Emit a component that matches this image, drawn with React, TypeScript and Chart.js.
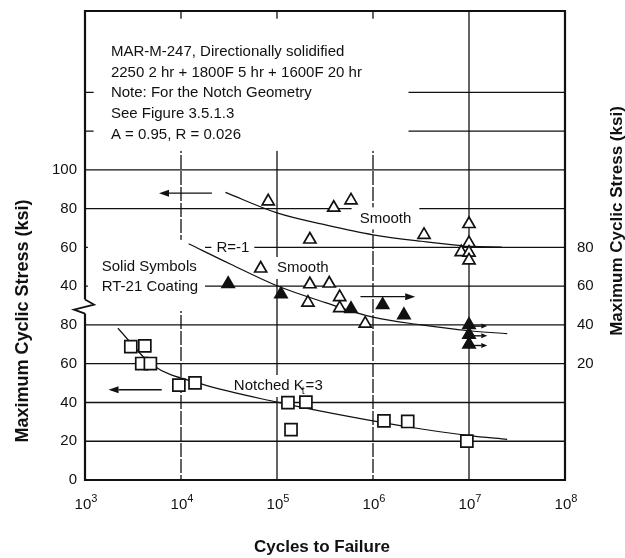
import React, { useEffect, useRef } from "react";
import { Chart, registerables } from "chart.js";

Chart.register(...registerables);

const FONT = "'Liberation Sans', Arial, Helvetica, sans-serif";
const INK = "#111";

// The vertical axis is broken: one shared scale carries three stress scales.
// Upper-left values sit 60 units up, right-hand values 40 units up.
const UPPER_SHIFT = 60;
const RIGHT_SHIFT = 40;
const PLOT_TOP = 242;

const decadeValues = [1e3, 1e4, 1e5, 1e6, 1e7, 1e8];
const decadeExponents = ["3", "4", "5", "6", "7", "8"];
const lowerLeftTicks = [0, 20, 40, 60, 80];
const upperLeftTicks = [40, 60, 80, 100];
const rightTicks = [20, 40, 60, 80];
const gridLevels = [20, 40, 60, 80, 100, 120, 140, 160, 180, 200];

const noteLines = [
  "MAR-M-247, Directionally solidified",
  "2250 2 hr + 1800F 5 hr + 1600F 20 hr",
  "Note: For the Notch Geometry",
  "See Figure 3.5.1.3",
  "A = 0.95, R = 0.026",
];

// Smooth specimens, A = 0.95 (upper-left stress scale, ksi)
const smoothCycles = [8.1e4, 2.2e5, 3.9e5, 5.9e5, 3.4e6, 1e7, 1e7, 8.3e6, 1e7, 1e7];
const smoothStress = [83.8, 64.1, 80.5, 84.3, 66.5, 72.1, 62.2, 57.6, 57.3, 53.3];
const smoothFitCycles = [2.9e4, 1e5, 3.2e5, 1e6, 3.2e6, 1e7, 2.2e7];
const smoothFitStress = [88.4, 77.8, 71.6, 66.5, 63.2, 60.7, 60.2];

// Smooth specimens, R = -1 (right stress scale, ksi)
const reversedCycles = [2.2e5, 3.5e5, 2.1e5, 4.5e5, 4.5e5, 8.3e5];
const reversedStress = [61, 61.4, 51.5, 54.4, 48.7, 40.7];
const coatedCycles = [3.1e4, 1.1e5, 5.9e5, 1.26e6, 2.1e6, 1e7, 1e7, 1e7];
const coatedStress = [61.2, 55.9, 48.3, 50.3, 45.1, 40, 35, 30];
const reversedFitCycles = [1.2e4, 3.3e4, 1e5, 3.2e5, 1e6, 3.2e6, 1e7, 2.5e7];
const reversedFitStress = [81.9, 71.3, 60.2, 51.5, 44, 40, 37, 35.5];

// Notched Kt = 3 (lower-left stress scale, ksi)
const notchCycles = [3.0e3, 4.2e3, 3.9e3, 4.8e3, 9.5e3, 1.4e4, 1.3e5, 2.0e5, 1.4e5, 1.3e6, 2.3e6, 9.5e6];
const notchStress = [68.8, 69.2, 60.1, 60.1, 49, 50.1, 39.9, 40.2, 26, 30.5, 30.2, 20.1];
const notchFitCycles = [2.2e3, 5e3, 1.6e4, 1e5, 1e6, 3.2e6, 1e7, 2.5e7];
const notchFitStress = [78.3, 59.5, 49.7, 40.2, 30.5, 26.3, 22.9, 21];

// Direction arrows: [fromCycles, toCycles, stress, scale shift]
const bigArrows: [number, number, number, number][] = [
  [2.1e4, 5.9e3, 88, UPPER_SHIFT],
  [6.3e3, 1.76e3, 46.6, 0],
  [7.4e5, 2.75e6, 54.6, RIGHT_SHIFT],
];
// Run-outs of the coated specimens at 10^7 cycles (right scale)
const runoutStress = [40, 35, 30];
const runoutFrom = 1.07e7;
const runoutTo = 1.55e7;

const pts = (xs: number[], ys: number[], shift: number) =>
  xs.map((x, i) => ({ x, y: ys[i] + shift }));

const font = (size: number, bold = false) => `${bold ? "bold " : ""}${size}px ${FONT}`;

function arrow(ctx: CanvasRenderingContext2D, x1: number, y1: number, x2: number, y2: number, head: number, half: number) {
  const ang = Math.atan2(y2 - y1, x2 - x1);
  const bx = x2 - Math.cos(ang) * head;
  const by = y2 - Math.sin(ang) * head;
  ctx.beginPath();
  ctx.moveTo(x1, y1);
  ctx.lineTo(bx, by);
  ctx.stroke();
  ctx.beginPath();
  ctx.moveTo(x2, y2);
  ctx.lineTo(bx - Math.sin(ang) * half, by + Math.cos(ang) * half);
  ctx.lineTo(bx + Math.sin(ang) * half, by - Math.cos(ang) * half);
  ctx.closePath();
  ctx.fill();
}

const decorPlugin = {
  id: "fatigueDecor",
  beforeDatasetsDraw(chart: any) {
    const { ctx, chartArea: a, scales } = chart;
    const X = (v: number) => scales.x.getPixelForValue(v);
    const Y = (v: number) => scales.y.getPixelForValue(v);
    const L = (lg: number) => X(Math.pow(10, lg));
    ctx.save();

    // grid
    ctx.strokeStyle = INK;
    ctx.lineWidth = 1.3;
    gridLevels.forEach((v) => {
      ctx.beginPath();
      ctx.moveTo(a.left, Y(v));
      ctx.lineTo(a.right, Y(v));
      ctx.stroke();
    });
    decadeValues.slice(1, -1).forEach((v, i) => {
      ctx.setLineDash(i % 2 === 0 ? [14, 2] : []);
      ctx.beginPath();
      ctx.moveTo(X(v), a.top);
      ctx.lineTo(X(v), a.bottom);
      ctx.stroke();
    });
    ctx.setLineDash([]);

    // masks behind the note block and the coating legend
    ctx.fillStyle = "#fff";
    ctx.fillRect(L(3.09), Y(238), L(6.37) - L(3.09), Y(169.8) - Y(238));
    ctx.fillRect(L(3.03), Y(123.9), L(4.25) - L(3.03), Y(87.2) - Y(123.9));

    ctx.fillStyle = INK;
    ctx.textBaseline = "middle";
    ctx.textAlign = "left";

    // note block
    ctx.font = font(15);
    noteLines.forEach((s, i) => ctx.fillText(s, L(3.27), Y(221) + i * 20.8));

    // boxed labels on the grid
    const boxed = (s: string, cx: number, cy: number, padX: number, padY: number) => {
      ctx.font = font(15);
      const w = ctx.measureText(s).width;
      ctx.fillStyle = "#fff";
      ctx.fillRect(cx - w / 2 - padX, cy - padY, w + 2 * padX, 2 * padY);
      ctx.fillStyle = INK;
      ctx.textAlign = "center";
      ctx.fillText(s, cx, cy);
      ctx.textAlign = "left";
    };
    boxed("R=-1", L(4.54), Y(120), 5, 8);
    boxed("Smooth", L(6.13), Y(135), 8, 11);

    // "△ Smooth"
    {
      const ty = Y(109.4);
      const tx = L(4.83);
      ctx.fillStyle = "#fff";
      ctx.fillRect(tx - 8, ty - 11, L(5.58) - tx + 8, 22);
      ctx.fillStyle = INK;
      ctx.font = font(15);
      ctx.fillText("Smooth", L(5.0), ty);
      ctx.lineWidth = 1.7;
      ctx.beginPath();
      ctx.moveTo(tx, ty - 6.5);
      ctx.lineTo(tx + 6, ty + 4);
      ctx.lineTo(tx - 6, ty + 4);
      ctx.closePath();
      ctx.stroke();
      ctx.lineWidth = 1.3;
    }

    // coating legend
    ctx.font = font(15);
    ctx.fillText("Solid Symbols", L(3.174), Y(110.1));
    ctx.fillText("RT-21 Coating", L(3.174), Y(99.8));

    // "Notched Kt=3"
    {
      const nx = L(4.55);
      const ny = Y(48.5);
      ctx.font = font(15);
      const w1 = ctx.measureText("Notched K").width;
      ctx.font = font(10);
      const w2 = ctx.measureText("t").width;
      ctx.font = font(15);
      const w3 = ctx.measureText("=3").width;
      ctx.fillStyle = "#fff";
      ctx.fillRect(nx - 3, ny - 11, w1 + w2 + w3 + 6, 22);
      ctx.fillStyle = INK;
      ctx.fillText("Notched K", nx, ny);
      ctx.font = font(10);
      ctx.fillText("t", nx + w1 - 2, ny + 5);
      ctx.font = font(15);
      ctx.fillText("=3", nx + w1 + w2 - 1, ny);
    }

    // arrows
    ctx.strokeStyle = INK;
    ctx.fillStyle = INK;
    ctx.lineWidth = 1.4;
    bigArrows.forEach(([f, t, s, sh]) => arrow(ctx, X(f), Y(s + sh), X(t), Y(s + sh), 10, 3.5));
    runoutStress.forEach((s) =>
      arrow(ctx, X(runoutFrom), Y(s + RIGHT_SHIFT - 0.6), X(runoutTo), Y(s + RIGHT_SHIFT - 0.6), 6, 2.5)
    );

    // frame with the axis break on the left
    ctx.lineWidth = 2.2;
    ctx.beginPath();
    const yb = Y(90);
    ctx.moveTo(a.left, yb - 6);
    ctx.lineTo(a.left, a.top);
    ctx.lineTo(a.right, a.top);
    ctx.lineTo(a.right, a.bottom);
    ctx.lineTo(a.left, a.bottom);
    ctx.lineTo(a.left, yb + 8);
    ctx.stroke();
    ctx.lineWidth = 1.8;
    ctx.beginPath();
    ctx.moveTo(a.left, yb - 6);
    ctx.lineTo(a.left + 9, yb - 1);
    ctx.lineTo(a.left - 11, yb + 4);
    ctx.lineTo(a.left, yb + 8);
    ctx.stroke();

    // tick labels
    ctx.font = font(15);
    ctx.textAlign = "right";
    lowerLeftTicks.forEach((v) => ctx.fillText(String(v), a.left - 8, Y(v)));
    upperLeftTicks.forEach((v) => ctx.fillText(String(v), a.left - 8, Y(v + UPPER_SHIFT)));
    ctx.textAlign = "left";
    rightTicks.forEach((v) => ctx.fillText(String(v), a.right + 12, Y(v + RIGHT_SHIFT)));

    ctx.textBaseline = "alphabetic";
    decadeValues.forEach((v, i) => {
      ctx.font = font(15);
      const wb = ctx.measureText("10").width;
      ctx.font = font(11);
      const we = ctx.measureText(decadeExponents[i]).width;
      const x0 = X(v) - (wb + we) / 2 + 1;
      ctx.font = font(15);
      ctx.fillText("10", x0, a.bottom + 29);
      ctx.font = font(11);
      ctx.fillText(decadeExponents[i], x0 + wb, a.bottom + 22);
    });

    // axis titles
    ctx.textAlign = "center";
    ctx.textBaseline = "middle";
    ctx.font = font(17, true);
    ctx.fillText("Cycles to Failure", (a.left + a.right) / 2 - 3, a.bottom + 67);
    ctx.save();
    ctx.font = font(18, true);
    ctx.translate(23, 321);
    ctx.rotate(-Math.PI / 2);
    ctx.fillText("Maximum Cyclic Stress (ksi)", 0, 0);
    ctx.restore();
    ctx.save();
    ctx.font = font(17, true);
    ctx.translate(617, 221);
    ctx.rotate(-Math.PI / 2);
    ctx.fillText("Maximum Cyclic Stress (ksi)", 0, 0);
    ctx.restore();

    ctx.restore();
  },
};

const fitLine = (data: { x: number; y: number }[]) => ({
  data,
  showLine: true,
  borderColor: INK,
  borderWidth: 1.2,
  pointRadius: 0,
  cubicInterpolationMode: "monotone" as const,
  order: 2,
});

const markers = (data: { x: number; y: number }[], style: string, radius: number, fill: string) => ({
  data,
  showLine: false,
  pointStyle: style,
  pointRadius: radius,
  pointBorderColor: INK,
  pointBackgroundColor: fill,
  pointBorderWidth: 1.7,
  order: 1,
});

export default function App() {
  const ref = useRef<HTMLCanvasElement>(null);
  useEffect(() => {
    const chart = new Chart(ref.current as HTMLCanvasElement, {
      type: "scatter",
      data: {
        datasets: [
          fitLine(pts(smoothFitCycles, smoothFitStress, UPPER_SHIFT)),
          fitLine(pts(reversedFitCycles, reversedFitStress, RIGHT_SHIFT)),
          fitLine(pts(notchFitCycles, notchFitStress, 0)),
          markers(pts(smoothCycles, smoothStress, UPPER_SHIFT), "triangle", 7, "#fff"),
          markers(pts(reversedCycles, reversedStress, RIGHT_SHIFT), "triangle", 7, "#fff"),
          markers(pts(coatedCycles, coatedStress, RIGHT_SHIFT), "triangle", 7, INK),
          markers(pts(notchCycles, notchStress, 0), "rect", 8.5, "#fff"),
        ] as any,
      },
      options: {
        responsive: false,
        animation: false,
        devicePixelRatio: 1,
        layout: { padding: { left: 85, right: 60, top: 11, bottom: 78 } },
        plugins: { legend: { display: false }, tooltip: { enabled: false } },
        scales: {
          x: { type: "logarithmic", min: 1e3, max: 1e8, display: false },
          y: { type: "linear", min: 0, max: PLOT_TOP, display: false },
        },
      },
      plugins: [decorPlugin],
    });
    return () => chart.destroy();
  }, []);
  return (
    <div style={{ position: "fixed", left: 0, top: 0, width: 625, height: 558, background: "#fff" }}>
      <canvas ref={ref} width={625} height={558} style={{ display: "block", width: 625, height: 558 }} />
    </div>
  );
}
